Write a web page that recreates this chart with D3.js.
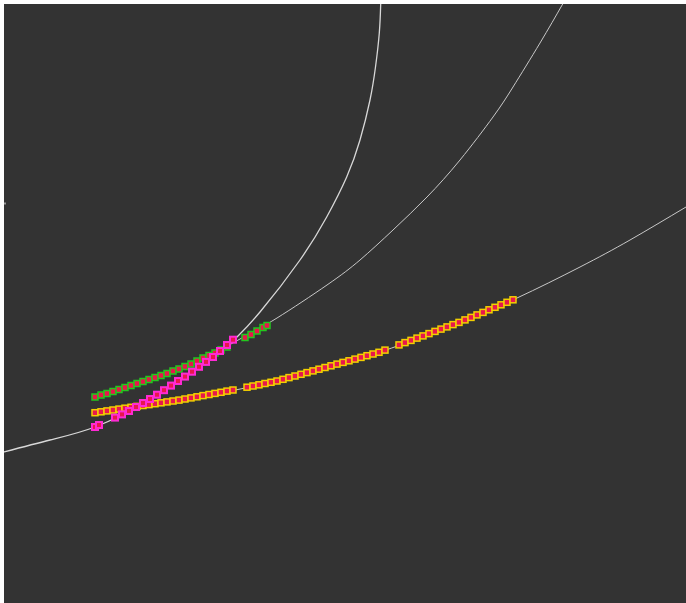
<!DOCTYPE html>
<html>
<head>
<meta charset="utf-8">
<script src="https://cdn.jsdelivr.net/npm/d3@7"></script>
<style>
  html, body { margin: 0; padding: 0; background: #ffffff; }
  svg { display: block; }
</style>
</head>
<body>
<svg id="chart" width="686" height="603"></svg>
<script>
// ---- data ----
const greenX = [0.91,0.97,1.03,1.09,1.15,1.21,1.27,1.33,1.39,1.45,1.51,1.57,1.63,1.69,1.75,1.81,1.87,1.93,1.99,2.05,2.11,2.17,2.23,2.41,2.47,2.53,2.59,2.63];
const greenY = [2.06,2.08,2.095,2.115,2.135,2.155,2.175,2.195,2.215,2.235,2.255,2.275,2.295,2.32,2.34,2.365,2.39,2.42,2.45,2.475,2.50,2.53,2.56,2.655,2.685,2.72,2.755,2.775];

const orangeX = [0.91,0.97,1.03,1.09,1.15,1.21,1.27,1.33,1.39,1.45,1.51,1.57,1.63,1.69,1.75,1.81,1.87,1.93,1.99,2.05,2.11,2.17,2.23,2.29,
  2.43,2.49,2.55,2.61,2.67,2.73,2.79,2.85,2.91,2.97,3.03,3.09,3.15,3.21,3.27,3.33,3.39,3.45,3.51,3.57,3.63,3.69,3.75,3.81,
  3.95,4.01,4.07,4.13,4.19,4.25,4.31,4.37,4.43,4.49,4.55,4.61,4.67,4.73,4.79,4.85,4.91,4.97,5.03,5.09];
const orangeY = [1.903,1.912,1.921,1.930,1.939,1.948,1.957,1.966,1.975,1.984,1.993,2.002,2.011,2.020,2.029,2.040,2.051,2.062,2.074,2.085,2.096,2.107,2.119,2.130,
  2.158,2.170,2.182,2.195,2.207,2.220,2.237,2.254,2.270,2.287,2.304,2.321,2.338,2.355,2.372,2.389,2.406,2.422,2.439,2.456,2.473,2.490,2.507,2.529,
  2.581,2.604,2.626,2.649,2.671,2.694,2.716,2.739,2.761,2.784,2.806,2.831,2.856,2.881,2.906,2.932,2.957,2.982,3.007,3.032];

const magentaX = [0.91,0.95,1.11,1.18,1.25,1.32,1.39,1.46,1.53,1.60,1.67,1.74,1.81,1.88,1.95,2.02,2.09,2.16,2.23,2.29];
const magentaY = [1.76,1.78,1.854,1.886,1.92,1.96,2.00,2.04,2.083,2.128,2.174,2.22,2.264,2.313,2.362,2.411,2.46,2.52,2.58,2.633];

// fitted curves
const curve1X = [0,0.46,0.91,1.46,2.09,2.33,2.56,2.96,3.227,3.427,3.56,3.66,3.715,3.753,3.767];
const curve1Y = [1.51,1.63,1.76,2.04,2.46,2.66,2.91,3.43,3.86,4.26,4.63,5.03,5.36,5.70,5.99];
const curve2X = [0.91,1.76,2.36,2.73,3.23,3.56,3.89,4.23,4.56,4.89,5.09,5.36,5.587];
const curve2Y = [2.06,2.34,2.64,2.85,3.18,3.43,3.73,4.06,4.43,4.86,5.16,5.60,5.99];
const curve3X = [0.91,1.76,2.73,3.76,4.56,5.13,5.76,6.26,6.82];
const curve3Y = [1.90,2.03,2.22,2.51,2.81,3.05,3.36,3.63,3.96];

const yTickValues = [4.0];

// ---- drawing ----
const svg = d3.select("#chart");
const W = 686, H = 603;
const padL = 4, padT = 4;

const x = d3.scaleLinear().domain([0, 6.82]).range([padL, W]);
const y = d3.scaleLinear().domain([0, 5.99]).range([H, padT]);

svg.append("defs").append("clipPath").attr("id", "plotclip")
  .append("rect").attr("x", padL).attr("y", padT).attr("width", W - padL).attr("height", H - padT);

svg.append("rect").attr("x", padL).attr("y", padT)
  .attr("width", W - padL).attr("height", H - padT).attr("fill", "#333333");

// tiny y tick
const yAxis = d3.axisLeft(y).tickValues(yTickValues).tickSize(-2).tickFormat("");
const ga = svg.append("g").attr("transform", `translate(${padL},0)`).call(yAxis);
ga.select(".domain").remove();
ga.selectAll(".tick line").attr("stroke", "#9a9a9a").attr("stroke-width", 2);

const plot = svg.append("g").attr("clip-path", "url(#plotclip)");

const line = d3.line().x(d => x(d[0])).y(d => y(d[1])).curve(d3.curveNatural);
const zip = (a, b) => a.map((v, i) => [v, b[i]]);

const curves = [
  {xs: curve1X, ys: curve1Y, w: 1.3, c: "#d8d8d8"},
  {xs: curve2X, ys: curve2Y, w: 1, c: "#c8c8c8"},
  {xs: curve3X, ys: curve3Y, w: 1, c: "#c8c8c8"}
];
curves.forEach(cv => {
  plot.append("path").datum(zip(cv.xs, cv.ys))
    .attr("d", line).attr("fill", "none")
    .attr("stroke", cv.c).attr("stroke-width", cv.w);
});

const series = [
  {xs: orangeX, ys: orangeY, stroke: "#f2d000", sw: 1.5},
  {xs: greenX, ys: greenY, stroke: "#22c81e", sw: 1.5},
  {xs: magentaX, ys: magentaY, stroke: "#ff2ad4", sw: 2}
];
const S = 6;
series.forEach(s => {
  plot.append("g").selectAll("rect").data(zip(s.xs, s.ys)).join("rect")
    .attr("x", d => x(d[0]) - S / 2).attr("y", d => y(d[1]) - S / 2)
    .attr("width", S).attr("height", S)
    .attr("fill", "#e8174c").attr("stroke", s.stroke).attr("stroke-width", s.sw);
});
</script>
</body>
</html>
